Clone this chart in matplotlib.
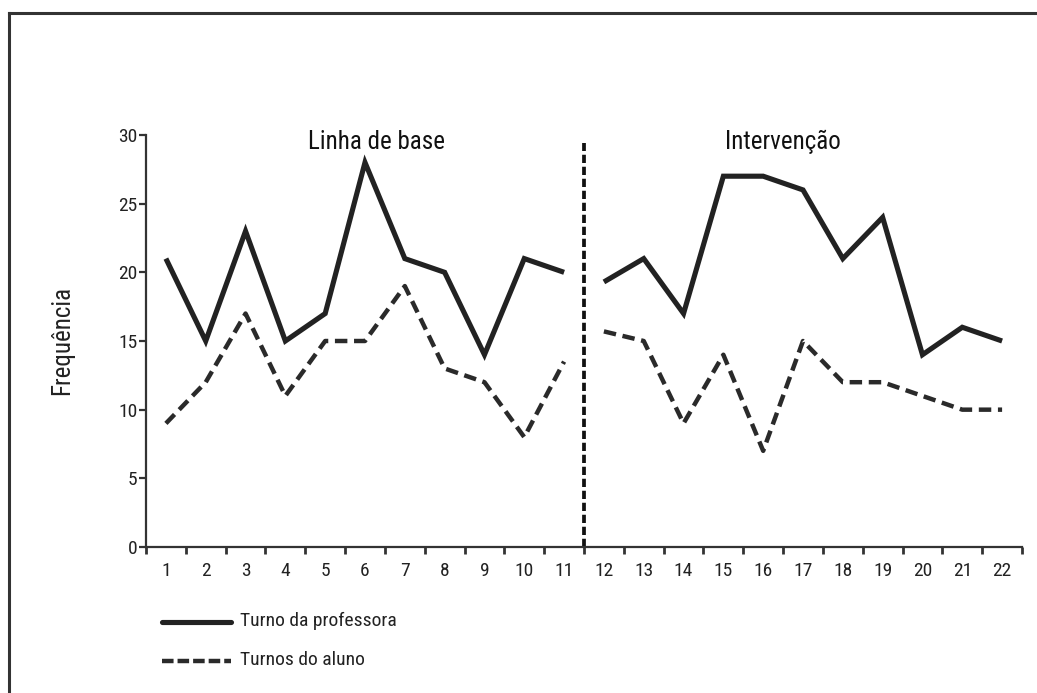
import matplotlib
matplotlib.use("Agg")
import matplotlib.pyplot as plt
from matplotlib.lines import Line2D
from matplotlib import font_manager
import numpy as np

cands = ['Liberation Sans Narrow', 'DejaVu Sans Condensed', 'Roboto Condensed', 'Open Sans Condensed']
avail = {f.name for f in font_manager.fontManager.ttflist}
fams = [c for c in cands if c in avail]
plt.rcParams['font.family'] = fams + ['Liberation Sans', 'DejaVu Sans']
plt.rcParams['font.stretch'] = 'condensed'
plt.rcParams['font.weight'] = 'normal'

sessions = list(range(1, 23))
teacher = [21, 15, 23, 15, 17, 28, 21, 20, 14, 21, 20,
           19.3, 21, 17, 27, 27, 26, 21, 24, 14, 16, 15]
student = [9, 12, 17, 11, 15, 15, 19, 13, 12, 8, 13.5,
           15.7, 15, 9, 14, 7, 15, 12, 12, 11, 10, 10]
phase_labels = ["Linha de base", "Intervenção"]
series_labels = ["Turno da professora", "Turnos do aluno"]
y_ticks = [0, 5, 10, 15, 20, 25, 30]
ylabel = "Frequência"
split_after = 11

W, H = 1037, 693
fig = plt.figure(figsize=(W / 100, H / 100), dpi=100)
ax = fig.add_axes([146 / W, 1 - 547 / H, (1022 - 146) / W, (547 - 135) / H])

dark = "#222222"
spine_c = "#333333"
narrow = bool(fams)
fs_big = 18 if narrow else 16
fs_small = 14 if narrow else 12.5

xs = np.array(sessions) - 0.5
n1 = split_after
ax.plot(xs[:n1], teacher[:n1], color=dark, lw=3.7, solid_joinstyle='miter', solid_capstyle='butt')
ax.plot(xs[n1:], teacher[n1:], color=dark, lw=3.7, solid_joinstyle='miter', solid_capstyle='butt')
ax.plot(xs[:n1], student[:n1], color="#2a2a2a", lw=3.2, dashes=(2.8, 1.5))
ax.plot(xs[n1:], student[n1:], color="#2a2a2a", lw=3.2, dashes=(2.8, 1.5))

ax.plot([split_after, split_after], [0, 29.4], color="#111111", lw=2.7,
        dashes=(2.2, 1.0), clip_on=False)

ax.set_xlim(0, 22)
ax.set_ylim(0, 30)
for s in ["top", "right"]:
    ax.spines[s].set_visible(False)
for s in ["left", "bottom"]:
    ax.spines[s].set_color(spine_c)
    ax.spines[s].set_linewidth(1.6)

ax.set_yticks(y_ticks)
ax.set_yticklabels([str(v) for v in y_ticks])
ax.tick_params(axis='y', length=5, width=1.6, color=spine_c, labelsize=fs_small,
               pad=1, labelcolor="#222222")

ax.set_xticks(xs)
ax.set_xticklabels([str(s) for s in sessions])
ax.tick_params(axis='x', which='major', length=0, labelsize=fs_small, pad=11,
               labelcolor="#222222")
ax.set_xticks(np.arange(0, 23), minor=True)
ax.tick_params(axis='x', which='minor', length=5, width=2, color=spine_c)

ax.text(5.8, 29.5, phase_labels[0], ha='center', va='center', fontsize=fs_big, color="#111111")
ax.text(16.0, 29.5, phase_labels[1], ha='center', va='center', fontsize=fs_big, color="#111111")

fig.text(62 / W, 1 - 340 / H, ylabel, rotation=90, ha='center', va='center',
         fontsize=fs_big, color="#222222")

# legend
leg_y = [622, 661]
styles = [dict(lw=3.7, color=dark, solid_capstyle='round'),
          dict(lw=3.2, color="#2a2a2a", dashes=(2.6, 0.9))]
for yy, lab, st in zip(leg_y, series_labels, styles):
    fig.add_artist(Line2D([162 / W, 231 / W], [1 - yy / H, 1 - yy / H], **st))
    fig.text(240 / W, 1 - (yy - 1) / H, lab, ha='left', va='center', fontsize=fs_small,
             color="#222222")

# outer frame
fig.add_artist(Line2D([9 / W, 1.01], [1 - 13 / H, 1 - 13 / H], lw=2.2, color=spine_c))
fig.add_artist(Line2D([9 / W, 9 / W], [1 - 13 / H, -0.01], lw=2.2, color=spine_c))

fig.savefig("out.png", dpi=100, facecolor="white")
